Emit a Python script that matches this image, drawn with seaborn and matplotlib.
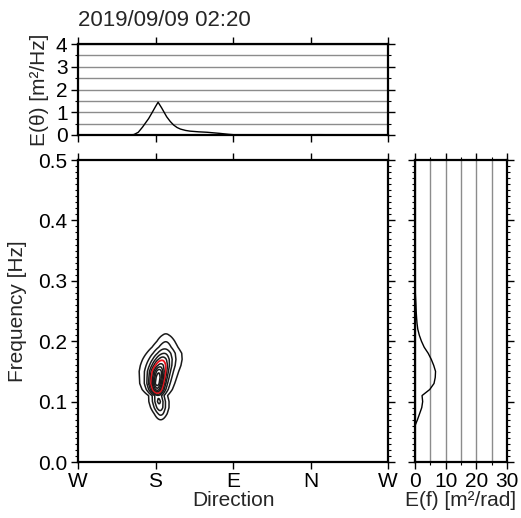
import numpy as np
import matplotlib
matplotlib.use("Agg")
import matplotlib.pyplot as plt
import seaborn as sns
from matplotlib.ticker import MultipleLocator

title = "2019/09/09 02:20"
dir_ticks = [0, 90, 180, 270, 360]
dir_labels = ["W", "S", "E", "N", "W"]

# Directional energy E(theta) [m^2/Hz]
theta = [0, 55, 60, 65, 70, 75, 78, 82, 86, 90, 93, 97, 100, 103, 107, 111,
         115, 119, 125, 130, 140, 150, 165, 175, 185, 240, 260, 280, 300, 320, 360]
e_theta = [0.0, 0.0, 0.0, 0.02, 0.12, 0.35, 0.51, 0.72, 0.98, 1.25, 1.44, 1.2,
           1.0, 0.8, 0.6, 0.44, 0.33, 0.26, 0.2, 0.17, 0.14, 0.12, 0.07, 0.03,
           0.0, 0.0, 0.01, 0.015, 0.01, 0.0, 0.0]

# Frequency spectrum E(f) and its directional parameters per band
freq = [0.04, 0.05, 0.06, 0.07, 0.08, 0.09, 0.10, 0.11, 0.12, 0.13, 0.14,
        0.15, 0.16, 0.17, 0.18, 0.19, 0.20, 0.21, 0.22, 0.23, 0.24, 0.25,
        0.26, 0.27, 0.28, 0.29, 0.30]
e_freq = [0.0, 0.0, 0.0, 0.8, 1.5, 2.2, 2.5, 2.3, 4.8, 6.2, 6.6, 6.7, 6.1,
          5.3, 4.3, 3.0, 2.1, 1.4, 0.9, 0.65, 0.5, 0.38, 0.3, 0.2, 0.1, 0.03, 0.0]
peak_dir = [96, 96, 96, 96, 96, 95, 94, 93, 92, 92, 93, 94, 96, 98, 100, 101,
            102, 102, 102, 102, 102, 102, 102, 102, 102, 102, 102]
spread = [8, 8, 8, 8, 8, 8, 8, 8, 7.5, 7.5, 8, 9, 11, 13, 14.5, 14.5, 13, 13, 13,
          13, 13, 13, 13, 13, 13, 13, 13]

# Contour levels (fraction of the spectral peak); the highlighted one in red
levels = [0.12, 0.2, 0.28, 0.36, 0.44, 0.52, 0.62, 0.72, 0.82, 0.92]
red_level = 0.52

FS = 15
sns.set_theme(style="ticks")
plt.rcParams["font.family"] = ["Liberation Sans", "DejaVu Sans"]
plt.rcParams["font.size"] = FS
plt.rcParams["axes.labelsize"] = FS
plt.rcParams["axes.linewidth"] = 1.6
for a in ("x", "y"):
    plt.rcParams[f"{a}tick.major.size"] = 5
    plt.rcParams[f"{a}tick.major.width"] = 1.0
    plt.rcParams[f"{a}tick.minor.size"] = 2.5
    plt.rcParams[f"{a}tick.minor.width"] = 0.8
    plt.rcParams[f"{a}tick.direction"] = "out"
    plt.rcParams[f"{a}tick.labelsize"] = FS
    plt.rcParams[f"{a}tick.color"] = "black"
    plt.rcParams[f"{a}tick.major.pad"] = 2.5

W, H = 521, 518
fig = plt.figure(figsize=(W / 100, H / 100), dpi=100)
fig.patch.set_facecolor("white")

def px_axes(x0, y0, x1, y1):
    return fig.add_axes([x0 / W, 1 - y1 / H, (x1 - x0) / W, (y1 - y0) / H])

ax_main = px_axes(78, 160, 388, 462)
ax_top = px_axes(78, 44, 388, 135)
ax_right = px_axes(415, 160, 507, 462)

for ax in (ax_main, ax_top, ax_right):
    for s in ax.spines.values():
        s.set_visible(True)
        s.set_color("black")
        s.set_linewidth(1.6)
    ax.set_facecolor("white")

# ---- 2-D spectrum ----
th_grid = np.arange(0, 361, 1.0)
f_arr = np.array(freq)
ef = np.array(e_freq)
mu = np.array(peak_dir, dtype=float)[:, None]
gam = np.array(spread, dtype=float)[:, None]
spec2d = (ef[:, None] / gam) / (1.0 + ((th_grid[None, :] - mu) / gam) ** 2)
spec2d = spec2d / spec2d.max()
cols = ["#e8141c" if lv == red_level else "#1a1a1a" for lv in levels]
lws = [1.3 if lv == red_level else 1.1 for lv in levels]
ax_main.contour(th_grid, f_arr, spec2d, levels=levels, colors=cols,
                linewidths=lws)

ax_main.set_xlim(0, 360)
ax_main.set_ylim(0, 0.5)
ax_main.set_xticks(dir_ticks)
ax_main.set_xticklabels(dir_labels)
ax_main.set_yticks(np.arange(0, 0.51, 0.1))
ax_main.set_yticklabels([f"{v:.1f}" for v in np.arange(0, 0.51, 0.1)])
ax_main.yaxis.set_minor_locator(MultipleLocator(0.01))
ax_main.tick_params(axis="x", top=True, bottom=True)
ax_main.tick_params(axis="y", which="both", left=True, right=True)
ax_main.set_xlabel("Direction", fontsize=FS, labelpad=0)
ax_main.set_ylabel("Frequency [Hz]", fontsize=FS)
ax_main.yaxis.set_label_coords(-0.165, 0.5)

# ---- E(theta) ----
sns.lineplot(x=theta, y=e_theta, ax=ax_top, color="black", linewidth=1.0)
ax_top.set_xlim(0, 360)
ax_top.set_ylim(0, 4)
ax_top.set_xticks(dir_ticks)
ax_top.set_xticklabels([])
ax_top.set_yticks([0, 1, 2, 3, 4])
ax_top.yaxis.set_minor_locator(MultipleLocator(0.5))
ax_top.tick_params(axis="x", top=True, bottom=True)
ax_top.tick_params(axis="y", which="both", left=True, right=True)
ax_top.yaxis.grid(True, which="both", color="#8c8c8c", linewidth=1.0)
ax_top.set_axisbelow(True)
ax_top.set_ylabel("E(θ) [m²/Hz]", fontsize=FS)
ax_top.yaxis.set_label_coords(-0.095, 0.5)

fig.text(78 / W, 1 - 26 / H, title, ha="left", va="baseline", fontsize=16)

# ---- E(f) ----
sns.lineplot(x=e_freq, y=freq, ax=ax_right, color="black", linewidth=1.0,
             orient="y", sort=True)
ax_right.set_xlim(0, 30)
ax_right.set_ylim(0, 0.5)
ax_right.set_xticks([0, 10, 20, 30])
ax_right.xaxis.set_minor_locator(MultipleLocator(5))
ax_right.set_yticks(np.arange(0, 0.51, 0.1))
ax_right.set_yticklabels([])
ax_right.yaxis.set_minor_locator(MultipleLocator(0.01))
ax_right.tick_params(axis="x", which="both", top=True, bottom=True)
ax_right.tick_params(axis="y", which="both", left=True, right=True)
ax_right.xaxis.grid(True, which="both", color="#8c8c8c", linewidth=1.0)
ax_right.set_axisbelow(True)
ax_right.set_xlabel("E(f) [m²/rad]", fontsize=FS, labelpad=0)
ax_right.set_ylabel("")

fig.savefig("out.png", dpi=100, facecolor="white")
